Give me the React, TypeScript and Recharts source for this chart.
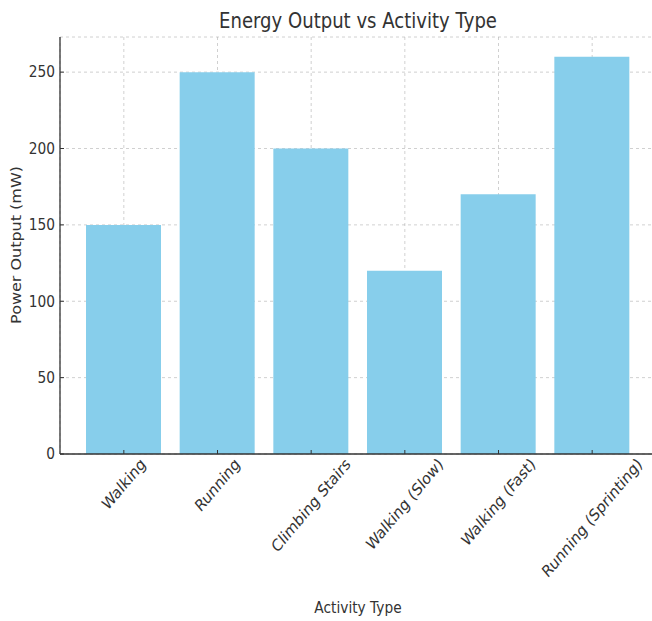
import { BarChart, Bar, XAxis, YAxis, CartesianGrid } from 'recharts';

const activities = ['Walking', 'Running', 'Climbing Stairs', 'Walking (Slow)', 'Walking (Fast)', 'Running (Sprinting)'];
const powerOutput = [150, 250, 200, 120, 170, 260];
const yTicks = [0, 50, 100, 150, 200, 250];

const data = activities.map((name, i) => ({ name, power: powerOutput[i] }));

const FONT = "'DejaVu Sans', sans-serif";
const INK = '#333333';
// the reference is squeezed a little horizontally, so text gets the same squeeze
const SX = 0.86;
const TICK_FS = 16;
const ROT_SX = 0.84;
const ROT_FS = 16.5;

let ctx: CanvasRenderingContext2D | null = null;
function textWidth(s: string, size: number): number {
  if (!ctx) ctx = document.createElement('canvas').getContext('2d');
  if (!ctx) return s.length * size * 0.6;
  ctx.font = `${size}px 'DejaVu Sans'`;
  return ctx.measureText(s).width;
}

function RotatedTick(props: any) {
  const { x, y, payload } = props;
  const len = textWidth(payload.value, ROT_FS);
  const boxH = (len + 12) * Math.SQRT1_2;
  const cy = y + 5 + boxH / 2;
  return (
    <g transform={`translate(${x},${cy}) scale(${ROT_SX},1) rotate(-45)`}>
      <text textAnchor="middle" dominantBaseline="central" fontSize={ROT_FS} fontFamily={FONT} fill={INK}>
        {payload.value}
      </text>
    </g>
  );
}

function YTick(props: any) {
  const { x, y, payload } = props;
  return (
    <g transform={`translate(${x},${y}) scale(${SX},1)`}>
      <text textAnchor="end" dominantBaseline="central" fontSize={TICK_FS} fontFamily={FONT} fill={INK}>
        {payload.value}
      </text>
    </g>
  );
}

export default function App() {
  return (
    <div style={{ position: 'fixed', left: 0, top: 0, width: 652, height: 621, overflow: 'hidden', background: '#fff' }}>
      <BarChart
        width={660}
        height={621}
        data={data}
        margin={{ top: 37, right: 4, bottom: 0, left: 0 }}
      >
        <g transform={`translate(358,28) scale(${SX},1)`}>
          <text textAnchor="middle" fontSize={21} fontFamily={FONT} fill={INK}>
            Energy Output vs Activity Type
          </text>
        </g>
        <g transform={`translate(358,613) scale(${SX},1)`}>
          <text textAnchor="middle" fontSize={16} fontFamily={FONT} fill={INK}>
            Activity Type
          </text>
        </g>
        <g transform={`translate(21,245) scale(${SX},1) rotate(-90)`}>
          <text textAnchor="middle" fontSize={16} fontFamily={FONT} fill={INK}>
            Power Output (mW)
          </text>
        </g>
        <XAxis
          dataKey="name"
          interval={0}
          padding={{ left: 17, right: 17 }}
          tick={<RotatedTick />}
          tickLine={{ stroke: INK }}
          tickSize={-4}
          axisLine={{ stroke: INK, strokeWidth: 1.3 }}
          height={167}
        />
        <YAxis
          domain={[0, 273]}
          ticks={yTicks}
          allowDataOverflow
          width={60}
          tick={<YTick />}
          tickLine={{ stroke: INK }}
          tickSize={-4}
          tickMargin={9}
          axisLine={{ stroke: INK, strokeWidth: 1.3 }}
        />
        <Bar dataKey="power" fill="#87CEEB" barSize={75} isAnimationActive={false} />
        <CartesianGrid stroke="#b0b0b0" strokeOpacity={0.6} strokeDasharray="3 3" />
      </BarChart>
    </div>
  );
}
